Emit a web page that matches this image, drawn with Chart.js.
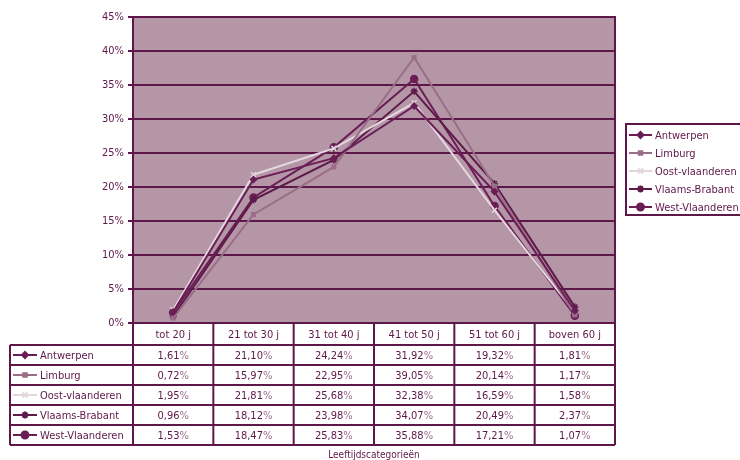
<!DOCTYPE html>
<html>
<head>
<meta charset="utf-8">
<script src="https://cdn.jsdelivr.net/npm/chart.js@4/dist/chart.umd.min.js"></script>
<style>
  html, body { margin: 0; padding: 0; background: #fff; }
</style>
</head>
<body>
<canvas id="chart" width="740" height="460"></canvas>
<script>
var categories = ['tot 20 j', '21 tot 30 j', '31 tot 40 j', '41 tot 50 j', '51 tot 60 j', 'boven 60 j'];
var antwerpen = [1.61, 21.10, 24.24, 31.92, 19.32, 1.81];
var limburg = [0.72, 15.97, 22.95, 39.05, 20.14, 1.17];
var oostVlaanderen = [1.95, 21.81, 25.68, 32.38, 16.59, 1.58];
var vlaamsBrabant = [0.96, 18.12, 23.98, 34.07, 20.49, 2.37];
var westVlaanderen = [1.53, 18.47, 25.83, 35.88, 17.21, 1.07];
var yTicks = [0, 5, 10, 15, 20, 25, 30, 35, 40, 45];

var FONT = '"DejaVu Sans Condensed", "DejaVu Sans", sans-serif';
var DARK = '#5e1749';
var PCT = '#9a6d88';
var PLOT_BG = '#b496a6';

var series = [
    {label: 'Antwerpen', data: antwerpen, color: '#6a1e55', style: 'rectRot', r: 3},
    {label: 'Limburg', data: limburg, color: '#9a6d88', style: 'rect', r: 2.5},
    {label: 'Oost-vlaanderen', data: oostVlaanderen, color: '#e4d6de', style: 'crossRot', r: 3.5},
    {label: 'Vlaams-Brabant', data: vlaamsBrabant, color: '#5e1a48', style: 'star', r: 3.5},
    {label: 'West-Vlaanderen', data: westVlaanderen, color: '#6a1e55', style: 'circle', r: 3.5}
];

function fmt(v) {
    return v.toFixed(2).replace('.', ',');
}

function drawMarker(ctx, s, x, y) {
    Chart.helpers.drawPoint(ctx, {pointStyle: s.style, radius: s.r, borderWidth: 1.5}, x, y);
}

function drawKey(ctx, s, x1, x2, y) {
    ctx.save();
    ctx.strokeStyle = s.color;
    ctx.fillStyle = s.color;
    ctx.lineWidth = 2;
    ctx.beginPath();
    ctx.moveTo(x1, y);
    ctx.lineTo(x2, y);
    ctx.stroke();
    drawMarker(ctx, s, (x1 + x2) / 2, y);
    ctx.restore();
}

// number dark, percent sign lighter, centred together
function drawPct(ctx, v, x, y) {
    var num = fmt(v);
    var w1 = ctx.measureText(num).width, w2 = ctx.measureText('%').width;
    var start = x - (w1 + w2) / 2;
    ctx.textAlign = 'left';
    ctx.fillStyle = DARK;
    ctx.fillText(num, start, y);
    ctx.fillStyle = PCT;
    ctx.fillText('%', start + w1, y);
}

var tablePlugin = {
    id: 'tablePlugin',
    beforeDraw: function (chart) {
        var ctx = chart.ctx, a = chart.chartArea;
        ctx.save();
        ctx.fillStyle = PLOT_BG;
        ctx.fillRect(a.left, a.top, a.right - a.left, a.bottom - a.top);
        ctx.restore();
    },
    afterDraw: function (chart) {
        var ctx = chart.ctx, a = chart.chartArea, xs = chart.scales.x;
        var colW = (a.right - a.left) / categories.length;
        var headTop = a.bottom, headBot = a.bottom + 22, rowH = 20;
        var tableLeft = 10, tableBot = headBot + rowH * series.length;

        ctx.save();
        // plot border
        ctx.strokeStyle = DARK;
        ctx.lineWidth = 2;
        ctx.strokeRect(a.left, a.top, a.right - a.left, a.bottom - a.top);

        // table lines
        ctx.beginPath();
        for (var i = 0; i <= categories.length; i++) {
            var x = a.left + colW * i;
            ctx.moveTo(x, headTop);
            ctx.lineTo(x, tableBot);
        }
        ctx.moveTo(tableLeft, headBot);
        ctx.lineTo(tableLeft, tableBot);
        for (var r = 0; r <= series.length; r++) {
            var y = headBot + rowH * r;
            ctx.moveTo(tableLeft, y);
            ctx.lineTo(a.right, y);
        }
        ctx.stroke();

        ctx.fillStyle = DARK;
        ctx.font = '11px ' + FONT;
        ctx.textAlign = 'center';
        ctx.textBaseline = 'middle';
        categories.forEach(function (c, i) {
            ctx.fillText(c, xs.getPixelForValue(i), (headTop + headBot) / 2 + 1);
        });
        series.forEach(function (s, r) {
            var yc = headBot + rowH * r + rowH / 2 + 1;
            s.data.forEach(function (v, i) {
                drawPct(ctx, v, xs.getPixelForValue(i), yc);
            });
            drawKey(ctx, s, 13, 37, yc - 1);
            ctx.fillStyle = DARK;
            ctx.textAlign = 'left';
            ctx.fillText(s.label, 40, yc);
        });

        // axis title
        ctx.font = '10px ' + FONT;
        ctx.textAlign = 'center';
        ctx.fillStyle = DARK;
        ctx.fillText('Leeftijdscategorieën', (a.left + a.right) / 2, tableBot + 10);

        // legend
        var lx = 626, ly = 124;
        ctx.lineWidth = 2;
        ctx.strokeStyle = DARK;
        ctx.strokeRect(lx, ly, 130, 91);
        ctx.font = '11px ' + FONT;
        series.forEach(function (s, i) {
            var y = ly + 11 + i * 18;
            drawKey(ctx, s, lx + 3, lx + 26, y);
            ctx.fillStyle = DARK;
            ctx.textAlign = 'left';
            ctx.fillText(s.label, lx + 29, y + 1);
        });
        ctx.restore();
    }
};

var ctx = document.getElementById('chart');
new Chart(ctx, {
    type: 'line',
    data: {
        labels: categories,
        datasets: series.map(function (s) {
            return {
                label: s.label,
                data: s.data,
                borderColor: s.color,
                backgroundColor: s.color,
                borderWidth: 2,
                pointStyle: s.style,
                pointRadius: s.r,
                pointBorderWidth: 1.5,
                tension: 0
            };
        })
    },
    options: {
        responsive: false,
        animation: false,
        devicePixelRatio: 1,
        layout: {padding: {left: 0, top: 17, right: 125, bottom: 137}},
        scales: {
            x: {
                display: false,
                offset: true
            },
            y: {
                min: 0,
                max: 45,
                afterFit: function (scale) { scale.width = 133; },
                afterBuildTicks: function (scale) {
                    scale.ticks = yTicks.map(function (v) { return {value: v}; });
                },
                border: {display: true, color: DARK, width: 2},
                grid: {color: DARK, lineWidth: 2, tickLength: 5, drawOnChartArea: true},
                ticks: {
                    color: DARK,
                    padding: 4,
                    font: {family: FONT, size: 11},
                    callback: function (value) { return value + '%'; }
                }
            }
        },
        plugins: {
            legend: {display: false},
            tooltip: {enabled: false}
        }
    },
    plugins: [tablePlugin]
});
</script>
</body>
</html>
